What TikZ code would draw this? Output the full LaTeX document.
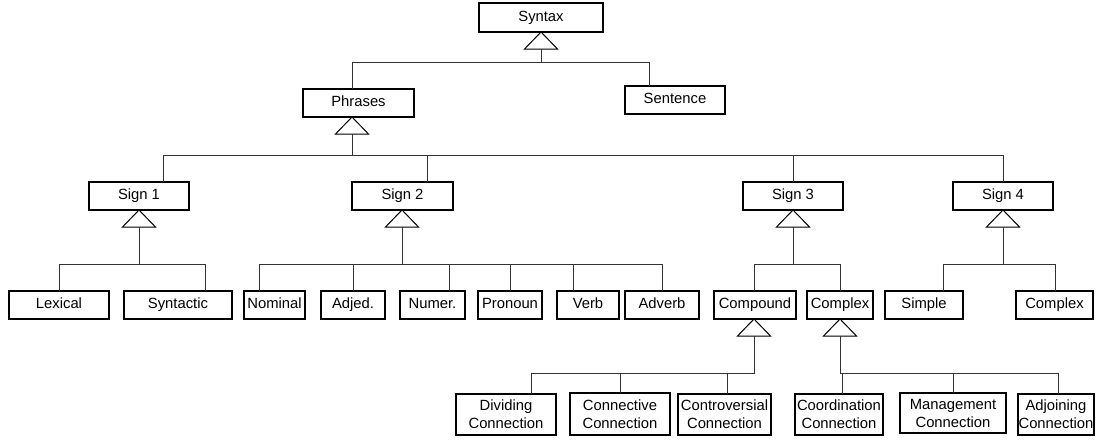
\documentclass[tikz,border=0pt]{standalone}
\usepackage{fontspec}
\setmainfont{Liberation Sans}
\usetikzlibrary{calc}

% box given by its style, name, text and left, right, top, bottom edges
% (y grows downward)
\newcommand{\cbox}[7][cls]{%
  \node[#1, minimum width={(#5)-(#4)}, minimum height={(#7)-(#6)}]
    (#2) at ({((#4)+(#5))/2},{((#6)+(#7))/2}) {#3};}
% generalisation triangle: apex at (#2,#3), base centre named #1
\newcommand{\gentri}[3]{%
  \draw[tri] (#2,#3) -- ++(-16.5,17) -- ++(33,0) -- cycle;
  \coordinate (#1) at (#2,{(#3)+17});}

\begin{document}
\begin{tikzpicture}[x=1pt,y=-1pt,
  clsbase/.style={draw=black, line width=1.1pt, fill=white, inner sep=0pt,
    align=center, font=\fontsize{14.8}{18}\selectfont},
  cls/.style={clsbase, text height=10.8pt, text depth=3.2pt},
  clstwo/.style={clsbase},
  tri/.style={draw=black, line width=1pt, fill=white, line join=miter},
  wire/.style={draw=black!80, line width=0.9pt}]
\useasboundingbox (0,0) rectangle (1096,442);

% classes
\cbox{syntax}{Syntax}{479}{603}{3}{32}
\cbox{phrases}{Phrases}{303}{414}{89}{117}
\cbox{sentence}{Sentence}{625}{725}{86}{114}
\cbox{sign1}{Sign 1}{89}{189}{182}{210}
\cbox{sign2}{Sign 2}{352}{453}{182}{210}
\cbox{sign3}{Sign 3}{743}{843}{182}{210}
\cbox{sign4}{Sign 4}{953}{1053}{182}{210}
\cbox{lexical}{Lexical}{9}{109}{291}{319}
\cbox{syntactic}{Syntactic}{124}{232}{291}{319}
\cbox{nominal}{Nominal}{244}{305}{291}{319}
\cbox{adjed}{Adjed.}{321}{385}{291}{319}
\cbox{numer}{Numer.}{400}{465}{291}{319}
\cbox{pronoun}{Pronoun}{478}{542}{291}{319}
\cbox{verb}{Verb}{557}{619}{291}{319}
\cbox{adverb}{Adverb}{625}{699}{291}{319}
\cbox{compound}{Compound}{714}{796}{291}{319}
\cbox{complexA}{Complex}{807}{873}{291}{319}
\cbox{simple}{Simple}{885}{963}{291}{319}
\cbox{complexB}{Complex}{1016}{1093}{291}{319}
\cbox[clstwo]{dividing}{Dividing\\Connection}{456}{556}{394}{435}
\cbox[clstwo]{connective}{Connective\\Connection}{570}{670}{393}{435}
\cbox[clstwo]{controversial}{Controversial\\Connection}{678}{771}{394}{435}
\cbox[clstwo]{coordination}{Coordination\\Connection}{795}{883}{394}{435}
\cbox[clstwo]{management}{Management\\Connection}{900}{1006}{393}{433}
\cbox[clstwo]{adjoining}{Adjoining\\Connection}{1018}{1094}{394}{435}

% generalisation triangles under the superclasses
\gentri{t-syntax}{541}{32}
\gentri{t-phrases}{352}{117}
\gentri{t-sign1}{139}{210}
\gentri{t-sign2}{402}{210}
\gentri{t-sign3}{793}{210}
\gentri{t-sign4}{1003}{210}
\gentri{t-compound}{754}{319}
\gentri{t-complexA}{840}{319}

% attachment points on the tops of the subclasses
\coordinate (in-phrases) at (352,89);
\coordinate (in-sentence) at (649,86);
\coordinate (in-sign1) at (163,182);
\coordinate (in-sign2) at (427,182);
\coordinate (in-sign3) at (793,182);
\coordinate (in-sign4) at (1003,182);
\coordinate (in-lexical) at (59,291);
\coordinate (in-syntactic) at (205,291);
\coordinate (in-nominal) at (259,291);
\coordinate (in-adjed) at (353,291);
\coordinate (in-numer) at (449,291);
\coordinate (in-pronoun) at (510,291);
\coordinate (in-verb) at (573,291);
\coordinate (in-adverb) at (662,291);
\coordinate (in-compound) at (754,291);
\coordinate (in-complexA) at (840,291);
\coordinate (in-simple) at (943,291);
\coordinate (in-complexB) at (1055,291);
\coordinate (in-dividing) at (531,394);
\coordinate (in-connective) at (620,393);
\coordinate (in-controversial) at (727,394);
\coordinate (in-coordination) at (842,394);
\coordinate (in-management) at (953,393);
\coordinate (in-adjoining) at (1058,394);

% generalisation connectors: stem, bus and drop to each subclass
\foreach \p/\y/\kids in {
    t-syntax/62/{phrases,sentence},
    t-phrases/155/{sign1,sign2,sign3,sign4},
    t-sign1/264/{lexical,syntactic},
    t-sign2/264/{nominal,adjed,numer,pronoun,verb,adverb},
    t-sign3/264/{compound,complexA},
    t-sign4/264/{simple,complexB},
    t-compound/373/{dividing,connective,controversial},
    t-complexA/373/{coordination,management,adjoining}}{
  \foreach \k in \kids {
    \draw[wire] (\p) |- (in-\k |- 0,\y) -- (in-\k);
  }
}
\end{tikzpicture}
\end{document}
